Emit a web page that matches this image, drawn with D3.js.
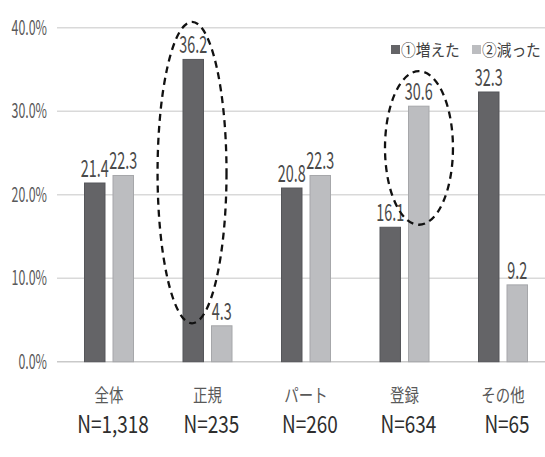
<!DOCTYPE html>
<html><head><meta charset="utf-8">
<script src="https://cdn.jsdelivr.net/npm/d3@7"></script>
<style>body{margin:0;background:#fff}svg{display:block}text{font-family:"Noto Sans CJK JP","Noto Sans",sans-serif}</style>
</head><body>
<svg id="c" width="545" height="457"></svg>
<script>
const categories = ["全体","正規","パート","登録","その他"];
const sampleSizes = ["N=1,318","N=235","N=260","N=634","N=65"];
const increased = [21.4,36.2,20.8,16.1,32.3];
const decreased = [22.3,4.3,22.3,30.6,9.2];
const seriesNames = ["①増えた","②減った"];
const yTicks = [0,10,20,30,40];
// annotation ellipses: category, value range covered
const highlightCats = ["正規","登録"];
const highlightFrom = [4.6,16.4];
const highlightTo = [40.7,34.8];

const colors = ["#646467","#bcbdc0"];
const strokes = ["#55565a","#a6a7aa"];

const svg = d3.select("#c");
const x0 = d3.scaleBand().domain(categories).range([59.75,552.25]);
const x1 = d3.scaleBand().domain([0,1]).range([24.25,74.25]).paddingInner(0.246);
const y = d3.scaleLinear().domain([0,40]).range([361.7,27.7]);

// gridlines
svg.append("g").selectAll("line").data(yTicks).join("line")
  .attr("x1",57).attr("x2",545)
  .attr("y1",d=>y(d)).attr("y2",d=>y(d))
  .attr("stroke",d=>d===0?"#c9c9c9":"#d9d9d9").attr("stroke-width",1.5);

// y tick labels
svg.append("g").selectAll("text").data(yTicks).join("text")
  .attr("transform",d=>`translate(47,${y(d)+7}) scale(0.62,1)`)
  .attr("text-anchor","end").attr("font-size",20).attr("fill","#595959")
  .text(d=>d3.format(".1f")(d)+"%");

const series=[increased,decreased];
const g = svg.append("g");
series.forEach((vals,si)=>{
  g.append("g").selectAll("rect").data(vals).join("rect")
    .attr("x",(d,i)=>x0(categories[i])+x1(si)+0.5)
    .attr("width",x1.bandwidth()-1)
    .attr("y",d=>y(d)).attr("height",d=>y(0)-y(d))
    .attr("fill",colors[si]).attr("stroke",strokes[si]).attr("stroke-width",1);
  g.append("g").selectAll("text").data(vals).join("text")
    .attr("transform",(d,i)=>`translate(${x0(categories[i])+x1(si)+x1.bandwidth()/2},${y(d)-6}) scale(0.6,1)`)
    .attr("text-anchor","middle").attr("font-size",24).attr("fill","#4a4a4a")
    .text(d=>d3.format(".1f")(d));
});

// category labels
svg.append("g").selectAll("text").data(categories).join("text")
  .attr("transform",d=>`translate(${x0(d)+x0.bandwidth()/2},402) scale(0.78,1)`)
  .attr("text-anchor","middle").attr("font-size",18.5).attr("fill","#595959")
  .text(d=>d);
svg.append("g").selectAll("text").data(sampleSizes).join("text")
  .attr("transform",(d,i)=>`translate(${x0(categories[i])+x0.bandwidth()/2+4},433) scale(0.79,1)`)
  .attr("text-anchor","middle").attr("font-size",24)
  .attr("font-family","'Liberation Sans',Arial,sans-serif").attr("fill","#2e2e2e")
  .text(d=>d);

// legend
const lg = svg.append("g");
const legX=[391,472];
seriesNames.forEach((n,i)=>{
  lg.append("rect").attr("x",legX[i]).attr("y",45).attr("width",9).attr("height",9).attr("fill",colors[i]);
  lg.append("text").attr("transform",`translate(${legX[i]+10},56) scale(0.92,1)`)
    .attr("font-size",16).attr("fill","#404040").text(n);
});

// dashed ellipses
const ex=[-0.157,0.147], ew=[0.70,0.69];
highlightCats.forEach((c,i)=>{
  const cx=x0(c)+x0.bandwidth()*(0.5+ex[i]);
  const yt=y(highlightTo[i]), yb=y(highlightFrom[i]);
  svg.append("ellipse").attr("cx",cx).attr("cy",(yt+yb)/2)
    .attr("rx",x0.bandwidth()*ew[i]/2).attr("ry",(yb-yt)/2)
    .attr("fill","none").attr("stroke","#111").attr("stroke-width",2.3)
    .attr("stroke-dasharray","7,5");
});
</script>
</body></html>
